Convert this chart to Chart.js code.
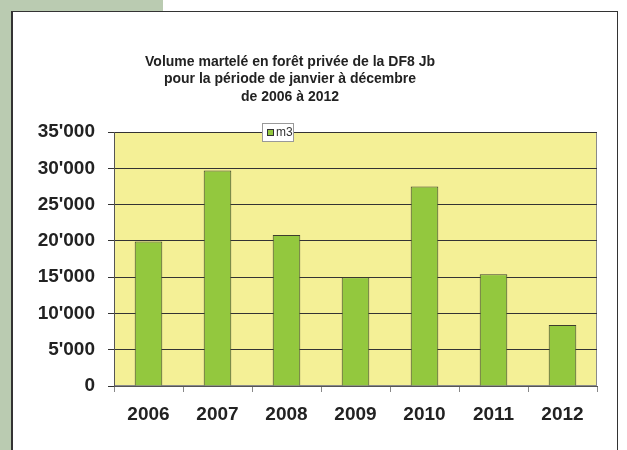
<!DOCTYPE html>
<html>
<head>
<meta charset="utf-8">
<script src="https://cdn.jsdelivr.net/npm/chart.js@4"></script>
<style>
  body { margin: 0; width: 627px; height: 450px; overflow: hidden; position: relative; background: #fff; }
  .side { position: absolute; background: #BACBB1; }
  #box { position: absolute; left: 11px; top: 11px; width: 604px; height: 460px; border: 1px solid #333; border-left-width: 2px; background: #fff; }
  #chart { position: absolute; left: 0; top: 0; }
</style>
</head>
<body>
<div class="side" style="left:0;top:0;width:163px;height:12px"></div>
<div class="side" style="left:0;top:0;width:11px;height:450px"></div>
<div id="box"></div>
<canvas id="chart" width="627" height="450"></canvas>
<script>
const years = ['2006', '2007', '2008', '2009', '2010', '2011', '2012'];
const volumes = [19900, 29700, 20800, 15000, 27500, 15400, 8400];
const seriesName = 'm3';
const titleLines = [
    'Volume martelé en forêt privée de la DF8 Jb',
    'pour la période de janvier à décembre',
    'de 2006 à 2012'
];

const FONT = '"Liberation Sans", Arial, sans-serif';

function swissNumber(v) {
    return String(v).replace(/\B(?=(\d{3})+(?!\d))/g, "'");
}

// fond jaune de la zone de tracé
const plotBackground = {
    id: 'plotBackground',
    beforeDraw(chart) {
        const { ctx, chartArea: a } = chart;
        ctx.save();
        ctx.fillStyle = '#F4F096';
        ctx.fillRect(a.left, a.top, a.right - a.left, a.bottom - a.top);
        ctx.strokeStyle = '#8a8a8a';
        ctx.lineWidth = 1;
        ctx.strokeRect(a.left + 0.5, a.top + 0.5, a.right - a.left - 1, a.bottom - a.top - 1);
        ctx.restore();
    }
};

// titre déplacé à gauche du centre, comme dans l'original
const offsetTitle = {
    id: 'offsetTitle',
    afterDraw(chart) {
        const { ctx } = chart;
        ctx.save();
        ctx.fillStyle = '#222';
        ctx.font = 'bold 14px ' + FONT;
        ctx.textAlign = 'center';
        ctx.textBaseline = 'middle';
        titleLines.forEach((line, i) => ctx.fillText(line, 290, 62 + i * 17.5));
        ctx.restore();
    }
};

// petite légende posée sur le haut du graphique, comme dans Excel
const boxLegend = {
    id: 'boxLegend',
    afterDraw(chart) {
        const { ctx } = chart;
        const ds = chart.data.datasets[0];
        ctx.save();
        ctx.fillStyle = '#fff';
        ctx.fillRect(262, 123, 31, 18);
        ctx.strokeStyle = '#999';
        ctx.lineWidth = 1;
        ctx.strokeRect(262.5, 123.5, 31, 18);
        ctx.fillStyle = ds.backgroundColor;
        ctx.fillRect(267, 129, 7, 7);
        ctx.strokeStyle = '#333';
        ctx.strokeRect(267.5, 129.5, 6, 6);
        ctx.fillStyle = '#333';
        ctx.font = '12px ' + FONT;
        ctx.textBaseline = 'middle';
        ctx.fillText(ds.label, 276, 133);
        ctx.restore();
    }
};

const ctx = document.getElementById('chart').getContext('2d');
const chart = new Chart(ctx, {
    type: 'bar',
    data: {
        labels: years,
        datasets: [{
            label: seriesName,
            data: volumes,
            backgroundColor: '#93C83E',
            borderColor: '#3D3D2E',
            borderWidth: 1,
            barPercentage: 0.4,
            categoryPercentage: 1
        }]
    },
    options: {
        responsive: false,
        animation: false,
        layout: { padding: { left: 14, right: 30, top: 132, bottom: 24 } },
        plugins: {
            legend: { display: false },
            tooltip: { enabled: false },
            title: { display: false }
        },
        scales: {
            x: {
                afterFit(scale) { scale.height = 40; },
                grid: { drawOnChartArea: false, tickLength: 6, color: '#888' },
                border: { display: true, color: '#555' },
                ticks: {
                    color: '#222',
                    padding: 11,
                    font: { family: FONT, size: 19, weight: 'bold' }
                }
            },
            y: {
                min: 0,
                max: 35000,
                afterFit(scale) { scale.width = 100; },
                grid: { color: '#333', tickLength: 6 },
                border: { display: true, color: '#555' },
                ticks: {
                    stepSize: 5000,
                    color: '#222',
                    padding: 13,
                    font: { family: FONT, size: 19, weight: 'bold' },
                    callback: (v) => swissNumber(v)
                }
            }
        }
    },
    plugins: [plotBackground, offsetTitle, boxLegend]
});
</script>
</body>
</html>
